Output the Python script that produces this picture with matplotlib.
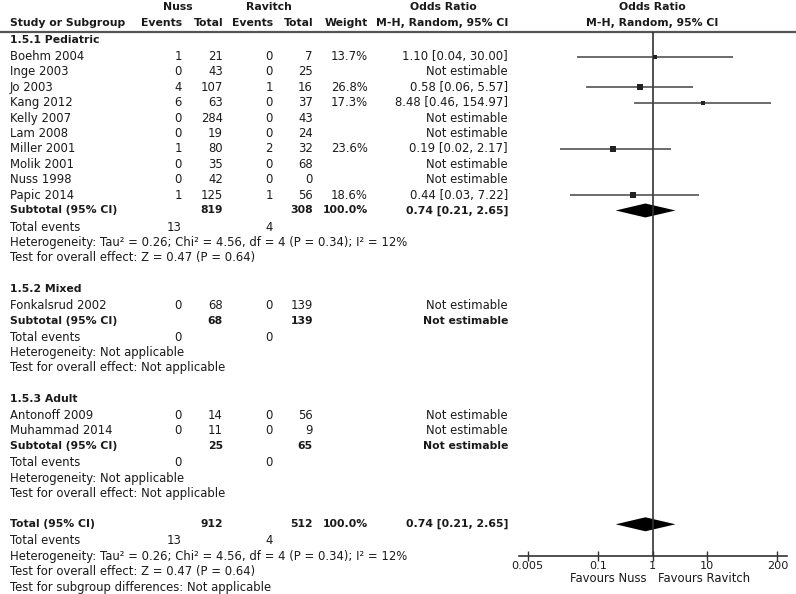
import numpy as np
import matplotlib.pyplot as plt

# ---- data ----
ped_studies = ['Boehm 2004', 'Inge 2003', 'Jo 2003', 'Kang 2012', 'Kelly 2007',
               'Lam 2008', 'Miller 2001', 'Molik 2001', 'Nuss 1998', 'Papic 2014']
ped_nuss_ev = [1, 0, 4, 6, 0, 0, 1, 0, 0, 1]
ped_nuss_tot = [21, 43, 107, 63, 284, 19, 80, 35, 42, 125]
ped_rav_ev = [0, 0, 1, 0, 0, 0, 2, 0, 0, 1]
ped_rav_tot = [7, 25, 16, 37, 43, 24, 32, 68, 0, 56]
ped_weight = [13.7, None, 26.8, 17.3, None, None, 23.6, None, None, 18.6]
ped_or = [1.10, None, 0.58, 8.48, None, None, 0.19, None, None, 0.44]
ped_lo = [0.04, None, 0.06, 0.46, None, None, 0.02, None, None, 0.03]
ped_hi = [30.00, None, 5.57, 154.97, None, None, 2.17, None, None, 7.22]

mix_studies = ['Fonkalsrud 2002']
mix_nuss_ev = [0]
mix_nuss_tot = [68]
mix_rav_ev = [0]
mix_rav_tot = [139]

adu_studies = ['Antonoff 2009', 'Muhammad 2014']
adu_nuss_ev = [0, 0]
adu_nuss_tot = [14, 11]
adu_rav_ev = [0, 0]
adu_rav_tot = [56, 9]

het_ped = 'Heterogeneity: Tau\u00b2 = 0.26; Chi\u00b2 = 4.56, df = 4 (P = 0.34); I\u00b2 = 12%'
eff_ped = 'Test for overall effect: Z = 0.47 (P = 0.64)'
het_na = 'Heterogeneity: Not applicable'
eff_na = 'Test for overall effect: Not applicable'

sub_or = [0.74, None, None]
sub_lo = [0.21, None, None]
sub_hi = [2.65, None, None]
total_or, total_lo, total_hi = 0.74, 0.21, 2.65

ticks = [0.005, 0.1, 1, 10, 200]
tick_labels = ['0.005', '0.1', '1', '10', '200']

none2 = [None] * 2
groups = [
    dict(title='1.5.1 Pediatric', studies=ped_studies, ne=ped_nuss_ev, nt=ped_nuss_tot,
         re=ped_rav_ev, rt=ped_rav_tot, w=ped_weight, orr=ped_or, lo=ped_lo, hi=ped_hi,
         het=het_ped, eff=eff_ped, sub=0),
    dict(title='1.5.2 Mixed', studies=mix_studies, ne=mix_nuss_ev, nt=mix_nuss_tot,
         re=mix_rav_ev, rt=mix_rav_tot, w=[None], orr=[None], lo=[None], hi=[None],
         het=het_na, eff=eff_na, sub=1),
    dict(title='1.5.3 Adult', studies=adu_studies, ne=adu_nuss_ev, nt=adu_nuss_tot,
         re=adu_rav_ev, rt=adu_rav_tot, w=none2, orr=none2, lo=none2, hi=none2,
         het=het_na, eff=eff_na, sub=2),
]

# ---- layout (pixels) ----
W, H = 796, 594
FS = 8.4
FSB = 7.8
TXT = '#1a1a1a'
X_NAME, X_NE, X_NT, X_RE, X_RT, X_W, X_OR = 10, 182, 223, 273, 313, 368, 508
AX_Y = 556
HDR_Y = 32
STEP = 15.39
EXTRA = 1.2

fig = plt.figure(figsize=(W / 100, H / 100), dpi=100)
ax = fig.add_axes([0, 0, 1, 1])
ax.set_xlim(0, W)
ax.set_ylim(H, 0)
ax.axis('off')

def put(x, y, s, ha='left', bold=False):
    ax.text(x, y, s, ha=ha, va='center', fontsize=FSB if bold else FS, color=TXT,
            fontweight='bold' if bold else 'normal')

# header
put(178, 7, 'Nuss', 'center', True)
put(269, 7, 'Ravitch', 'center', True)
put(443, 7, 'Odds Ratio', 'center', True)
put(652, 7, 'Odds Ratio', 'center', True)
put(X_NAME, 23, 'Study or Subgroup', bold=True)
for x, s in [(X_NE, 'Events'), (X_NT, 'Total'), (X_RE, 'Events'), (X_RT, 'Total'),
             (X_W, 'Weight'), (X_OR, 'M-H, Random, 95% CI')]:
    put(x, 23, s, 'right', True)
put(652, 23, 'M-H, Random, 95% CI', 'center', True)
ax.hlines(HDR_Y, 0, W, color='#555555', lw=1.6)

# forest axes: log scale, y in pixel rows
px0, px1 = 519, 787
xc, dec = 652.5, 54.32
fax = fig.add_axes([px0 / W, (H - AX_Y) / H, (px1 - px0) / W, (AX_Y - HDR_Y) / H])
fax.set_xscale('log')
fax.set_xlim(10 ** ((px0 - xc) / dec), 10 ** ((px1 - xc) / dec))
fax.set_ylim(AX_Y, HDR_Y)
fax.patch.set_visible(False)
for s in ['top', 'left', 'right']:
    fax.spines[s].set_visible(False)
fax.spines['bottom'].set_color('#333333')
fax.spines['bottom'].set_linewidth(1.2)
fax.set_xticks(ticks)
fax.set_xticklabels(tick_labels)
fax.minorticks_off()
fax.tick_params(axis='x', direction='inout', length=7, width=1, color='#333333',
                labelsize=8.1, labelcolor=TXT, pad=0)
fax.set_yticks([])
fax.axvline(1, color='#333333', lw=1.2)

def diamond(y, est, lo, hi):
    fax.fill([lo, est, hi, est], [y, y - 7, y, y + 7], color='black', lw=0)

y = 40
for g in groups:
    put(X_NAME, y, g['title'], bold=True)
    y += STEP + EXTRA
    for i, name in enumerate(g['studies']):
        put(X_NAME, y, name)
        put(X_NE, y, str(g['ne'][i]), 'right')
        put(X_NT, y, str(g['nt'][i]), 'right')
        put(X_RE, y, str(g['re'][i]), 'right')
        put(X_RT, y, str(g['rt'][i]), 'right')
        if g['orr'][i] is None:
            put(X_OR, y, 'Not estimable', 'right')
        else:
            put(X_W, y, '%.1f%%' % g['w'][i], 'right')
            put(X_OR, y, '%.2f [%.2f, %.2f]' % (g['orr'][i], g['lo'][i], g['hi'][i]), 'right')
            fax.hlines(y, g['lo'][i], g['hi'][i], color='#444444', lw=1.1)
            fax.plot(g['orr'][i], y, 's', color='#222222',
                     ms=1.16 * np.sqrt(g['w'][i]) * 72 / 100, mew=0)
        y += STEP
    k = g['sub']
    put(X_NAME, y, 'Subtotal (95% CI)', bold=True)
    put(X_NT, y, str(sum(g['nt'])), 'right', True)
    put(X_RT, y, str(sum(g['rt'])), 'right', True)
    if sub_or[k] is None:
        put(X_OR, y, 'Not estimable', 'right', True)
    else:
        put(X_W, y, '100.0%', 'right', True)
        put(X_OR, y, '%.2f [%.2f, %.2f]' % (sub_or[k], sub_lo[k], sub_hi[k]), 'right', True)
        diamond(y, sub_or[k], sub_lo[k], sub_hi[k])
    y += STEP + EXTRA
    put(X_NAME, y, 'Total events')
    put(X_NE, y, str(sum(g['ne'])), 'right')
    put(X_RE, y, str(sum(g['re'])), 'right')
    y += STEP
    put(X_NAME, y, g['het'])
    y += STEP
    put(X_NAME, y, g['eff'])
    y += 2 * STEP

all_nt = sum(sum(g['nt']) for g in groups)
all_rt = sum(sum(g['rt']) for g in groups)
all_ne = sum(sum(g['ne']) for g in groups)
all_re = sum(sum(g['re']) for g in groups)
put(X_NAME, y, 'Total (95% CI)', bold=True)
put(X_NT, y, str(all_nt), 'right', True)
put(X_RT, y, str(all_rt), 'right', True)
put(X_W, y, '100.0%', 'right', True)
put(X_OR, y, '%.2f [%.2f, %.2f]' % (total_or, total_lo, total_hi), 'right', True)
diamond(y, total_or, total_lo, total_hi)
y += STEP + EXTRA
put(X_NAME, y, 'Total events')
put(X_NE, y, str(all_ne), 'right')
put(X_RE, y, str(all_re), 'right')
y += STEP
put(X_NAME, y, het_ped)
y += STEP
put(X_NAME, y, eff_ped)
y += STEP
put(X_NAME, y, 'Test for subgroup differences: Not applicable')

put(647, 579, 'Favours Nuss', 'right')
put(658, 579, 'Favours Ravitch', 'left')

fig.savefig('out.png', dpi=100)
